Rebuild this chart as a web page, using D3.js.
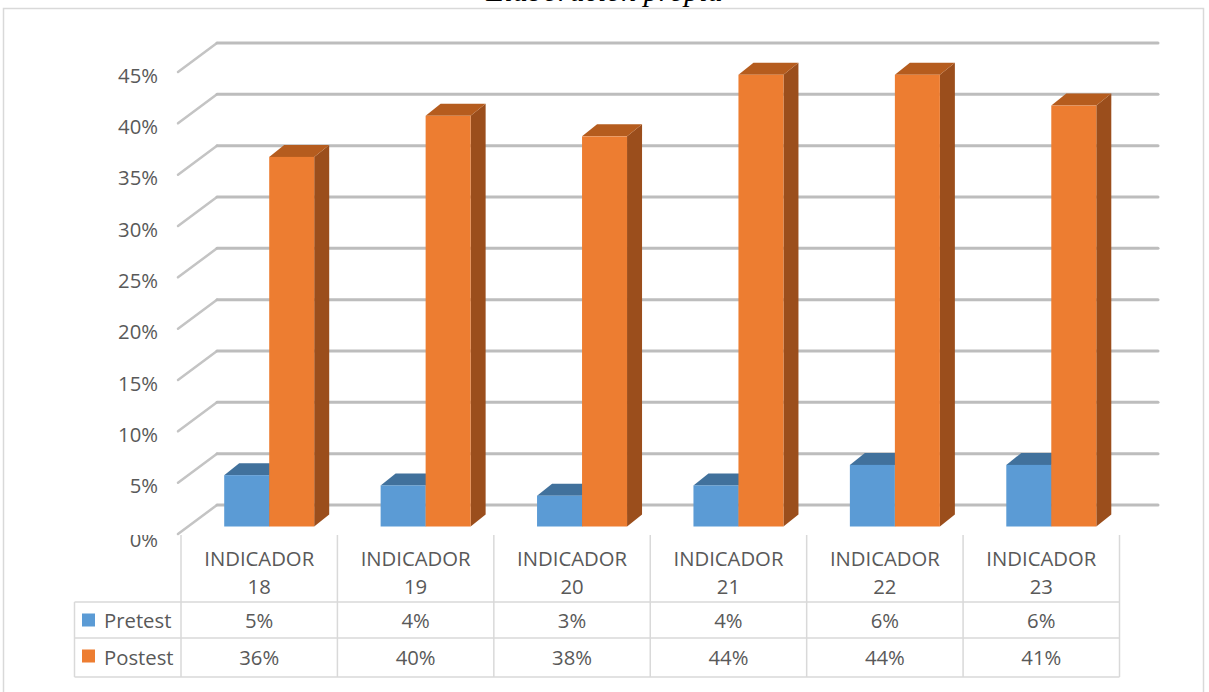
<!DOCTYPE html>
<html>
<head>
<meta charset="utf-8">
<script src="https://cdn.jsdelivr.net/npm/d3@7/dist/d3.min.js"></script>
<style>
  html, body { margin: 0; padding: 0; background: #fff; }
  svg { display: block; }
</style>
</head>
<body>
<svg id="chart" width="1209" height="692"></svg>
<script>
// Chart data
const categories = ["INDICADOR 18", "INDICADOR 19", "INDICADOR 20", "INDICADOR 21", "INDICADOR 22", "INDICADOR 23"];
const seriesNames = ["Pretest", "Postest"];
const pretest = [5, 4, 3, 4, 6, 6];
const postest = [36, 40, 38, 44, 44, 41];
const yTicks = [0, 5, 10, 15, 20, 25, 30, 35, 40, 45];

const series = [pretest, postest];
const colors = {
  front: ["#5b9bd5", "#ed7d31"],
  top:   ["#41719c", "#b55c1e"],
  side:  ["#3a6690", "#9b4e1c"]
};

const W = 1209, H = 692;
const svg = d3.select("#chart");
const font = "'Open Sans', 'Noto Sans', sans-serif";
const fontSize = 20.3;
const textColor = "#595959";

// Outer chart frame
svg.append("rect")
  .attr("x", 3.5).attr("y", 8.5).attr("width", 1200).attr("height", 700)
  .attr("fill", "#fff").attr("stroke", "#d9d9d9").attr("stroke-width", 1.5);

// Caption above the frame
svg.append("text")
  .attr("x", W / 2).attr("y", 1)
  .attr("text-anchor", "middle")
  .attr("font-family", "'Liberation Serif', 'DejaVu Serif', serif")
  .attr("font-style", "italic")
  .attr("font-size", 30)
  .attr("fill", "#000")
  .text("Elaboración propia");

// Scales: front plane of the 3D box
const x = d3.scaleBand().domain(categories).range([181, 1119.5]).paddingInner(0).paddingOuter(0);
const y = d3.scaleLinear().domain([0, 45]).range([534, 72]);

// Oblique depth of the walls and of the bars
const wallDX = 39, wallDY = 29;
const barOffX = 10, barOffY = 7.5;   // where the bar front sits inside the box
const barDX = 15, barDY = 12;        // bar depth
const barW = 45;

const grid = svg.append("g");

// Back wall gridlines and left side wall lines
yTicks.forEach(t => {
  const yf = y(t);
  grid.append("line")
    .attr("x1", 178).attr("y1", yf)
    .attr("x2", 178 + wallDX).attr("y2", yf - wallDY)
    .attr("stroke", "#c4c4c4").attr("stroke-width", 2.5).attr("stroke-linecap", "round");
  grid.append("line")
    .attr("x1", 178 + wallDX).attr("y1", yf - wallDY)
    .attr("x2", 1119 + wallDX).attr("y2", yf - wallDY)
    .attr("stroke", "#bdbdbd").attr("stroke-width", 3).attr("stroke-linecap", "round");
});

// Y axis labels; the lowest one is partly hidden under the table header band
const defs = svg.append("defs");
const clip = defs.append("clipPath").attr("id", "axis-clip");
clip.append("rect").attr("x", 0).attr("y", 0).attr("width", 180).attr("height", 526);
clip.append("rect").attr("x", 0).attr("y", 535).attr("width", 180).attr("height", 100);

svg.append("g")
  .attr("clip-path", "url(#axis-clip)")
  .selectAll("text")
  .data(yTicks)
  .join("text")
  .attr("x", 158)
  .attr("y", d => y(d) + (d === 0 ? 13 : 10.5))
  .attr("text-anchor", "end")
  .attr("font-family", font)
  .attr("font-size", fontSize)
  .attr("fill", textColor)
  .text(d => d + "%");

// 3D bars
const bars = svg.append("g");
categories.forEach((c, i) => {
  const cx = x(c) + x.bandwidth() / 2 + barOffX;
  series.forEach((vals, s) => {
    const v = vals[i];
    const x0 = cx - barW + s * barW;
    const x1 = x0 + barW;
    const yb = y(0) - barOffY;
    const yt = y(v) - barOffY;
    const g = bars.append("g");
    // side face
    g.append("path")
      .attr("d", `M${x1},${yt} L${x1 + barDX},${yt - barDY} L${x1 + barDX},${yb - barDY} L${x1},${yb} Z`)
      .attr("fill", colors.side[s]);
    // top face
    g.append("path")
      .attr("d", `M${x0},${yt} L${x0 + barDX},${yt - barDY} L${x1 + barDX},${yt - barDY} L${x1},${yt} Z`)
      .attr("fill", colors.top[s]);
    // front face
    g.append("rect")
      .attr("x", x0).attr("y", yt)
      .attr("width", barW).attr("height", yb - yt)
      .attr("fill", colors.front[s]);
  });
});

// Data table beneath the plot
const table = svg.append("g");
const lineColor = "#d9d9d9";
const headTop = 535, row1 = 602, row2 = 638, row3 = 677, legendLeft = 74.5;
const colEdges = categories.map(c => x(c)).concat([x.range()[1]]);

colEdges.forEach(xe => {
  table.append("line")
    .attr("x1", xe).attr("y1", headTop).attr("x2", xe).attr("y2", row3)
    .attr("stroke", lineColor).attr("stroke-width", 1.5);
});
table.append("line")
  .attr("x1", legendLeft).attr("y1", row1).attr("x2", legendLeft).attr("y2", row3)
  .attr("stroke", lineColor).attr("stroke-width", 1.5);
[row1, row2, row3].forEach(ry => {
  table.append("line")
    .attr("x1", legendLeft).attr("y1", ry).attr("x2", x.range()[1]).attr("y2", ry)
    .attr("stroke", lineColor).attr("stroke-width", 1.5);
});

// Category headers (two lines each)
categories.forEach(c => {
  const parts = [c.slice(0, c.lastIndexOf(" ")), c.slice(c.lastIndexOf(" ") + 1)];
  const t = table.append("text")
    .attr("text-anchor", "middle")
    .attr("font-family", font)
    .attr("font-size", fontSize)
    .attr("fill", textColor);
  t.append("tspan").attr("x", x(c) + x.bandwidth() / 2).attr("y", 566).text(parts[0]);
  t.append("tspan").attr("x", x(c) + x.bandwidth() / 2).attr("y", 594).text(parts[1]);
});

// Series rows: legend key, name and values
const rowBase = [628, 665];
const rowMid = [620, 656];
series.forEach((vals, s) => {
  table.append("rect")
    .attr("x", 82).attr("y", rowMid[s] - 6.5)
    .attr("width", 13).attr("height", 13)
    .attr("fill", colors.front[s]);
  table.append("text")
    .attr("x", 104).attr("y", rowBase[s])
    .attr("font-family", font).attr("font-size", fontSize)
    .attr("fill", textColor)
    .text(seriesNames[s]);
  categories.forEach((c, i) => {
    table.append("text")
      .attr("x", x(c) + x.bandwidth() / 2).attr("y", rowBase[s])
      .attr("text-anchor", "middle")
      .attr("font-family", font).attr("font-size", fontSize)
      .attr("fill", textColor)
      .text(vals[i] + "%");
  });
});
</script>
</body>
</html>
